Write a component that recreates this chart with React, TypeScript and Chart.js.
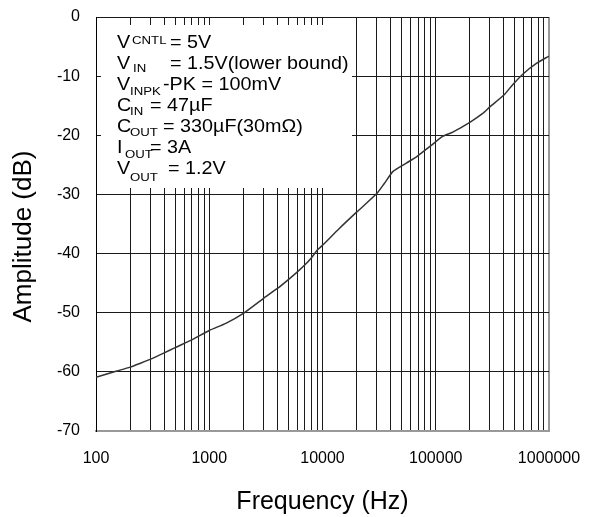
import React, { useEffect, useRef } from 'react';
import { Chart, registerables } from 'chart.js';

Chart.register(...registerables);

// Frequency (Hz) and amplitude (dB)
const frequencies = [
  100, 150, 200, 250, 300, 400, 500, 700, 1000, 1400, 2000, 3000, 4000, 5000,
  6000, 7000, 8000, 9000, 10000, 14000, 20000, 30000, 35000, 42000, 55000,
  68000, 90000, 115000, 140000, 200000, 260000, 300000, 400000, 480000,
  600000, 780000, 1000000,
];
const amplitudes = [
  -60.9, -59.9, -59.2, -58.5, -57.9, -56.8, -55.9, -54.6, -53.0, -51.8, -50.1,
  -47.6, -45.9, -44.4, -43.1, -41.9, -40.7, -39.4, -38.6, -35.8, -33.0, -29.9,
  -28.2, -26.1, -24.7, -23.6, -21.8, -20.2, -19.5, -17.8, -16.3, -15.2, -13.2,
  -11.4, -9.5, -7.8, -6.6,
];

const decadeTicks = [100, 1000, 10000, 100000, 1000000];
const minorMultipliers = [1, 2, 3, 4, 5, 6, 7, 8, 9];
const yTicks = [0, -10, -20, -30, -40, -50, -60, -70];

const xTitle = 'Frequency (Hz)';
const yTitle = 'Amplitude (dB)';

const conditionMain = ['V', 'V', 'V', 'C', 'C', 'I', 'V'];
const conditionSub = ['CNTL', 'IN', 'INPK', 'IN', 'OUT', 'OUT', 'OUT'];
const conditionRest = [
  '= 5V',
  '= 1.5V(lower bound)',
  '-PK = 100mV',
  '= 47\u00B5F',
  '= 330\u00B5F(30m\u03A9)',
  '= 3A',
  '= 1.2V',
];

const FONT = '"Liberation Sans", Arial, "DejaVu Sans", sans-serif';

// layout of the condition text (offsets from the text's left edge)
const subX = [15, 16, 13, 13, 13, 8, 13];
const subDy = [-4, 3, 5, 4, 4, 5, 7];
const restX = [53, 53, 46, 33, 46, 33, 51];

const conditionsPlugin = {
  id: 'conditionsBox',
  beforeDatasetsDraw(chart: any) {
    const { ctx, chartArea } = chart;
    const left = chartArea.left;
    const top = chartArea.top;
    ctx.save();
    ctx.fillStyle = '#ffffff';
    ctx.fillRect(left + 5, top + 8, 251, 163);
    ctx.fillStyle = '#000000';
    ctx.textBaseline = 'alphabetic';
    ctx.textAlign = 'left';
    const drawStretched = (text: string, x: number, y: number, font: string, sx: number) => {
      ctx.save();
      ctx.font = font;
      ctx.translate(x, y);
      ctx.scale(sx, 1);
      ctx.fillText(text, 0, 0);
      ctx.restore();
    };
    for (let i = 0; i < conditionMain.length; i++) {
      const baseY = top + 31 + 21 * i;
      const x0 = left + 21;
      drawStretched(conditionMain[i], x0, baseY, `19px ${FONT}`, 1.04);
      drawStretched(conditionSub[i], x0 + subX[i], baseY + subDy[i], `11px ${FONT}`, 1.2);
      drawStretched(conditionRest[i], x0 + restX[i], baseY, `19px ${FONT}`, 1.04);
    }
    ctx.restore();
  },
  afterDraw(chart: any) {
    const { ctx } = chart;
    ctx.save();
    ctx.fillStyle = '#000000';
    ctx.font = `26px ${FONT}`;
    ctx.textAlign = 'center';
    ctx.textBaseline = 'middle';
    ctx.translate(24, 236.5);
    ctx.rotate(-Math.PI / 2);
    ctx.fillText(yTitle, 0, 0);
    ctx.restore();
  },
};

export default function App() {
  const canvasRef = useRef<HTMLCanvasElement | null>(null);

  useEffect(() => {
    if (!canvasRef.current) return;
    const xTickValues: number[] = [];
    decadeTicks.forEach((d, i) => {
      if (i === decadeTicks.length - 1) {
        xTickValues.push(d);
      } else {
        minorMultipliers.forEach((m) => xTickValues.push(m * d));
      }
    });
    const points = frequencies.map((f, i) => ({ x: f, y: amplitudes[i] }));

    const chart = new Chart(canvasRef.current, {
      type: 'line',
      data: {
        datasets: [
          {
            data: points,
            borderColor: '#333333',
            borderWidth: 1.5,
            pointRadius: 0,
            tension: 0.2,
            fill: false,
          },
        ],
      },
      options: {
        animation: false,
        responsive: true,
        maintainAspectRatio: false,
        layout: { padding: { top: 17, right: 44, left: 0, bottom: 0 } },
        plugins: {
          legend: { display: false },
          tooltip: { enabled: false },
        },
        scales: {
          x: {
            type: 'logarithmic',
            min: 100,
            max: 1000000,
            afterBuildTicks: (scale: any) => {
              scale.ticks = xTickValues.map((v) => ({ value: v }));
            },
            afterFit: (scale: any) => {
              scale.height = 86;
            },
            ticks: {
              autoSkip: false,
              maxRotation: 0,
              minRotation: 0,
              padding: 0,
              color: '#000',
              font: { family: FONT, size: 16 },
              callback: (v: any) => (decadeTicks.includes(Number(v)) ? String(v) : ''),
            },
            grid: {
              drawTicks: true,
              tickLength: 18,
              tickColor: 'rgba(0,0,0,0)',
              color: (c: any) => (c.tick && c.tick.value === 1000000 ? '#999999' : '#1a1a1a'),
              lineWidth: (c: any) => (c.tick && c.tick.value === 1000000 ? 2 : 1),
            },
            border: { display: true, color: '#999999', width: 2 },
            title: {
              display: true,
              text: xTitle,
              color: '#000',
              font: { family: FONT, size: 25 },
              padding: { top: 0, bottom: 0 },
            },
          },
          y: {
            type: 'linear',
            min: -70,
            max: 0,
            afterBuildTicks: (scale: any) => {
              scale.ticks = yTicks.map((v) => ({ value: v }));
            },
            afterFit: (scale: any) => {
              scale.width = 96;
            },
            ticks: {
              padding: 0,
              color: '#000',
              font: { family: FONT, size: 16 },
              callback: (v: any) => String(v),
            },
            grid: {
              drawTicks: true,
              tickLength: 16,
              tickColor: 'rgba(0,0,0,0)',
              color: (c: any) => (c.tick && c.tick.value === -70 ? 'rgba(0,0,0,0)' : '#1a1a1a'),
              lineWidth: 1,
            },
            border: { display: true, color: '#000', width: 1 },
            title: { display: false },
          },
        },
      },
      plugins: [conditionsPlugin],
    });
    return () => chart.destroy();
  }, []);

  return (
    <div style={{ position: 'absolute', left: 0, top: 0, width: 593, height: 517, background: '#fff' }}>
      <canvas ref={canvasRef} />
    </div>
  );
}
